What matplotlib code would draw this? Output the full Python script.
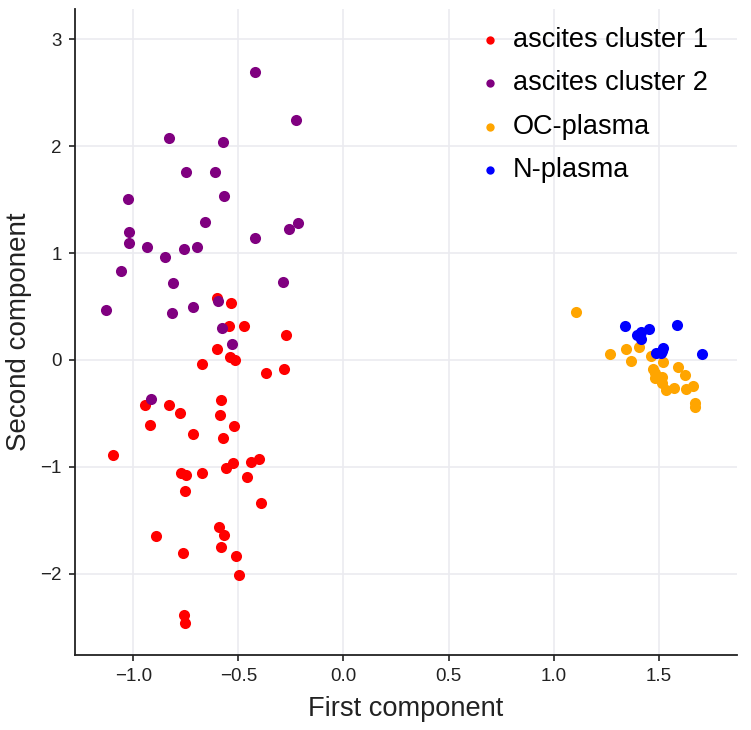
import matplotlib
matplotlib.use("Agg")
import matplotlib.pyplot as plt

plt.rcParams['font.family'] = ['Liberation Sans', 'DejaVu Sans']

# ascites cluster 1
red_x = [-0.604, -0.535, -0.544, -0.475, -0.275, -0.600, -0.541, -0.514, -0.672, -0.367,
         -0.283, -0.946, -0.829, -0.780, -0.581, -0.589, -0.519, -0.921, -0.714, -0.573,
         -1.095, -0.527, -0.557, -0.440, -0.403, -0.459, -0.775, -0.747, -0.671, -0.753,
         -0.392, -0.894, -0.592, -0.568, -0.585, -0.764, -0.511, -0.497, -0.758, -0.756]
red_y = [0.578, 0.531, 0.322, 0.322, 0.234, 0.103, 0.025, 0.003, -0.040, -0.124,
         -0.081, -0.423, -0.423, -0.495, -0.376, -0.513, -0.616, -0.610, -0.694, -0.728,
         -0.890, -0.967, -1.011, -0.958, -0.927, -1.092, -1.054, -1.076, -1.058, -1.226,
         -1.341, -1.642, -1.565, -1.639, -1.748, -1.807, -1.835, -2.009, -2.383, -2.460]

# ascites cluster 2
purple_x = [-0.422, -0.226, -0.831, -0.574, -0.747, -0.609, -1.024, -0.570, -0.658, -0.258,
            -0.218, -1.021, -1.021, -0.935, -0.758, -0.695, -0.421, -0.848, -1.057, -0.812,
            -0.288, -1.130, -0.816, -0.715, -0.595, -0.576, -0.532, -0.916]
purple_y = [2.697, 2.244, 2.078, 2.041, 1.759, 1.756, 1.503, 1.534, 1.288, 1.225,
            1.281, 1.194, 1.094, 1.059, 1.041, 1.059, 1.144, 0.959, 0.828, 0.719,
            0.734, 0.463, 0.438, 0.500, 0.556, 0.297, 0.147, -0.367]

# OC-plasma
orange_x = [1.105, 1.269, 1.342, 1.405, 1.367, 1.462, 1.521, 1.473, 1.484, 1.513,
            1.516, 1.536, 1.571, 1.593, 1.626, 1.630, 1.661, 1.671, 1.672, 1.484]
orange_y = [0.450, 0.059, 0.106, 0.125, -0.013, 0.038, -0.016, -0.084, -0.172, -0.156,
            -0.219, -0.281, -0.266, -0.069, -0.141, -0.272, -0.244, -0.406, -0.444, -0.125]

# N-plasma
blue_x = [1.340, 1.587, 1.451, 1.413, 1.397, 1.413, 1.521, 1.508, 1.487, 1.707, 1.516]
blue_y = [0.319, 0.331, 0.291, 0.266, 0.234, 0.194, 0.109, 0.063, 0.069, 0.053, 0.088]

fig = plt.figure(figsize=(7.51, 7.30), dpi=100)
ax = fig.add_axes([0.0999, 0.1027, 0.8815, 0.8845])

ax.scatter(red_x, red_y, s=64, color='#FF0000', linewidths=0, label='ascites cluster 1', zorder=3)
ax.scatter(purple_x, purple_y, s=64, color='#800080', linewidths=0, label='ascites cluster 2', zorder=3)
ax.scatter(orange_x, orange_y, s=64, color='#FFA500', linewidths=0, label='OC-plasma', zorder=3)
ax.scatter(blue_x, blue_y, s=64, color='#0000FF', linewidths=0, label='N-plasma', zorder=3)

ax.set_xlim(-1.277, 1.872)
ax.set_ylim(-2.76, 3.28)
ax.set_xticks([-1.0, -0.5, 0.0, 0.5, 1.0, 1.5])
ax.set_yticks([-2, -1, 0, 1, 2, 3])

ax.grid(True, color='#EBEBF0', linewidth=1.2, zorder=0)
ax.set_axisbelow(True)
for side in ['top', 'right']:
    ax.spines[side].set_visible(False)
for side in ['left', 'bottom']:
    ax.spines[side].set_color('#222222')
    ax.spines[side].set_linewidth(1.3)

ax.tick_params(labelsize=13.5, length=4.5, width=1.2, pad=5, color='#222222', labelcolor='#222222')
ax.set_xlabel('First component', fontsize=19.6, color='#222222', labelpad=8)
ax.set_ylabel('Second component', fontsize=20, color='#222222', labelpad=6)

ax.legend(loc='upper left', bbox_to_anchor=(0.6065, 0.973), frameon=False, fontsize=19.5,
          markerscale=0.75, handlelength=1.0, handletextpad=0.35, labelspacing=0.645,
          borderaxespad=0, borderpad=0)

fig.savefig('out.png', dpi=100)
